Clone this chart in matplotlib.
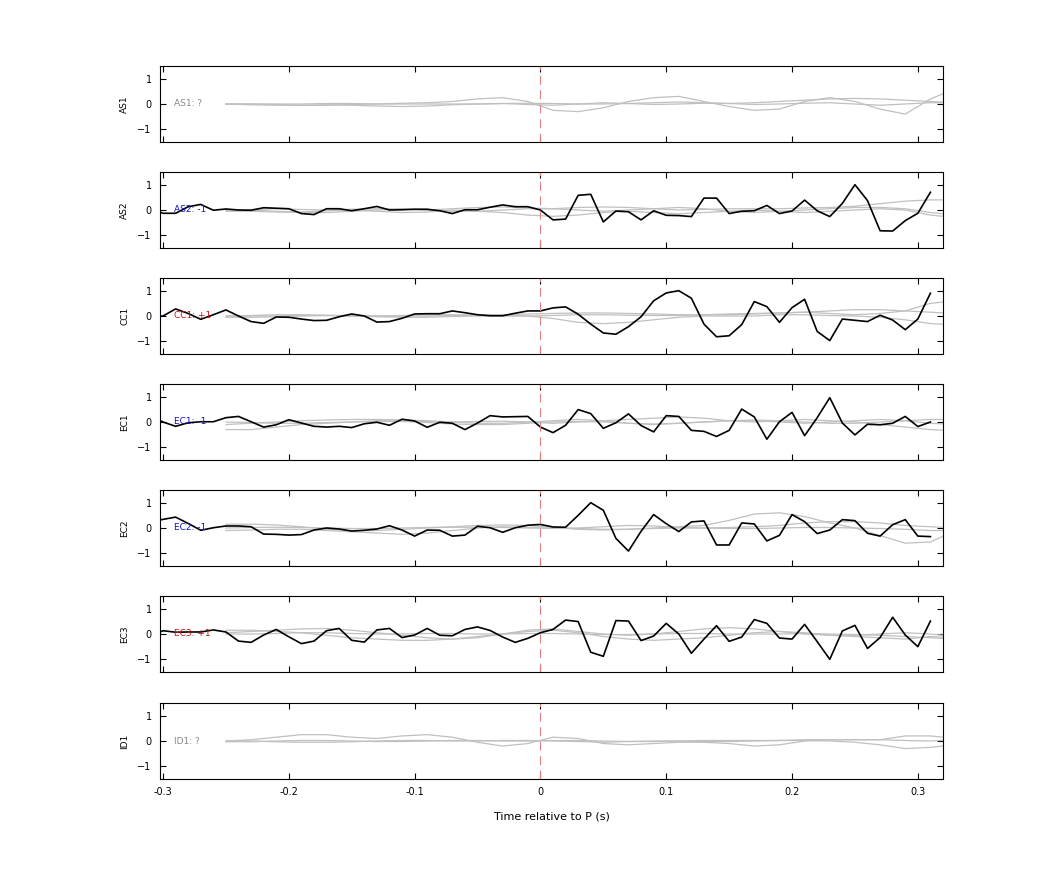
import numpy as np
import matplotlib
matplotlib.use("Agg")
import matplotlib.pyplot as plt

# station names, polarity labels and label colours
stations = ["AS1", "AS2", "CC1", "EC1", "EC2", "EC3", "ID1"]
pol_text = ["?", "-1", "+1", "-1", "-1", "+1", "?"]
pol_color = ["#888888", "#1010c0", "#d01010", "#1010c0", "#1010c0", "#d01010", "#888888"]

# observed traces, sampled every 0.01 s from -0.31 to 0.31
t_obs = np.round(np.arange(-0.31, 0.315, 0.01), 2)
obs = {
    "AS2": [0.05, -0.13, -0.13, 0.13, 0.22, -0.01, 0.04, 0.0, -0.01, 0.09, 0.07, 0.05, -0.14, -0.18,
            0.05, 0.05, -0.03, 0.05, 0.14, 0.0, 0.01, 0.03, 0.03, -0.03, -0.14, 0.01, 0.01, 0.11,
            0.2, 0.13, 0.13, 0.0,
            -0.39, -0.36, 0.58, 0.62, -0.47, -0.04, -0.07, -0.39, -0.03, -0.21, -0.22, -0.26, 0.47,
            0.47, -0.14, -0.05, -0.03, 0.18, -0.14, -0.04, 0.39, -0.03, -0.26, 0.26, 1.0, 0.37,
            -0.82, -0.83, -0.42, -0.13, 0.7],
    "CC1": [-0.05, 0.0, 0.28, 0.1, -0.13, 0.05, 0.24, 0.0, -0.22, -0.29, -0.04, -0.05, -0.12, -0.18,
            -0.17, -0.03, 0.08, 0.0, -0.24, -0.22, -0.09, 0.08, 0.09, 0.09, 0.2, 0.13, 0.05, 0.01,
            0.01, 0.11, 0.2, 0.2,
            0.32, 0.36, 0.07, -0.32, -0.67, -0.72, -0.42, -0.03, 0.6, 0.91, 1.0, 0.7, -0.32, -0.82,
            -0.78, -0.34, 0.57, 0.37, -0.25, 0.33, 0.66, -0.61, -0.97, -0.12, -0.17, -0.22, 0.03,
            -0.16, -0.54, -0.12, 0.9],
    "EC1": [0.25, 0.0, -0.17, -0.03, 0.01, 0.01, 0.17, 0.22, 0.01, -0.2, -0.11, 0.09, -0.04, -0.17,
            -0.2, -0.17, -0.22, -0.07, -0.01, -0.13, 0.11, 0.04, -0.21, -0.01, -0.05, -0.3, -0.04,
            0.25, 0.2, 0.21, 0.22, -0.2,
            -0.42, -0.13, 0.49, 0.33, -0.25, -0.03, 0.32, -0.14, -0.39, 0.25, 0.22, -0.33, -0.37,
            -0.57, -0.33, 0.51, 0.2, -0.68, 0.01, 0.38, -0.54, 0.17, 0.96, -0.04, -0.51, -0.09,
            -0.11, -0.05, 0.22, -0.18, 0.0],
    "EC2": [0.25, 0.34, 0.43, 0.18, -0.09, 0.01, 0.08, 0.08, 0.05, -0.24, -0.25, -0.28, -0.26, -0.08,
            0.0, -0.04, -0.12, -0.09, -0.04, 0.09, -0.08, -0.32, -0.08, -0.09, -0.32, -0.28, 0.07,
            0.01, -0.17, 0.01, 0.11, 0.14,
            0.04, 0.03, 0.5, 1.0, 0.7, -0.41, -0.91, -0.13, 0.53, 0.17, -0.14, 0.24, 0.28, -0.67,
            -0.67, 0.2, 0.16, -0.51, -0.29, 0.53, 0.25, -0.22, -0.08, 0.33, 0.29, -0.21, -0.32,
            0.13, 0.33, -0.32, -0.34],
    "EC3": [-0.1, 0.13, 0.07, 0.08, 0.08, 0.16, 0.08, -0.28, -0.33, -0.04, 0.18, -0.11, -0.38, -0.28,
            0.13, 0.22, -0.25, -0.32, 0.16, 0.22, -0.14, -0.04, 0.22, -0.05, -0.07, 0.18, 0.28,
            0.14, -0.12, -0.33, -0.17, 0.05,
            0.18, 0.55, 0.49, -0.72, -0.88, 0.53, 0.51, -0.26, -0.08, 0.42, 0.0, -0.76, -0.2, 0.33,
            -0.29, -0.12, 0.57, 0.42, -0.16, -0.2, 0.38, -0.3, -1.0, 0.12, 0.34, -0.57, -0.14, 0.66,
            -0.04, -0.5, 0.51],
}

# synthetic (gray) traces, sampled every 0.02 s from -0.25 to 0.31, last point at 0.33 (clipped)
t_syn = np.round(np.append(np.arange(-0.25, 0.315, 0.02), 0.33), 2)
syn = {
    "AS1": [[0, 0, -0.02, -0.05, -0.05, -0.02, 0, 0.03, 0.05, 0.1, 0.2, 0.25, 0.1, -0.25, -0.3,
             -0.15, 0.1, 0.25, 0.3, 0.1, -0.1, -0.25, -0.2, 0.1, 0.25, 0.1, -0.2, -0.4, 0.2, 0.6],
            [0, 0, 0, 0, 0.02, 0.02, 0, 0, 0, 0, 0, 0.02, 0.03, 0.02, 0, 0, 0.02, 0.05, 0.08, 0.05,
             0.02, 0.05, 0.1, 0.15, 0.2, 0.22, 0.2, 0.15, 0.1, 0.05],
            [0, -0.03, -0.05, -0.05, -0.03, -0.05, -0.08, -0.1, -0.08, -0.03, 0, 0.02, -0.02, -0.05,
             0, 0.05, 0.02, -0.02, 0, 0.03, 0.02, -0.02, 0, 0.03, 0.05, 0, -0.05, 0, 0.05, 0.05]],
    "AS2": [[-0.05, -0.05, -0.08, -0.1, -0.1, -0.05, 0, 0.03, 0, -0.05, -0.05, 0, 0.05, 0.05, 0,
             -0.05, 0, 0.05, 0.1, 0.05, -0.05, -0.1, -0.05, 0, 0.05, 0.1, 0.1, 0.05, -0.1, -0.2],
            [0, 0.02, 0.05, 0.02, 0, 0.03, 0.05, 0.05, 0, 0.05, 0.1, 0.12, 0.08, 0.05, 0.1, 0.12,
             0.1, 0.05, 0, 0.02, 0.05, 0.05, 0.05, 0.08, 0.1, 0.15, 0.25, 0.35, 0.4, 0.4],
            [0, 0, -0.05, -0.08, -0.03, 0, -0.05, -0.1, -0.08, 0, -0.05, -0.1, -0.2, -0.25, -0.2,
             -0.1, -0.05, -0.1, -0.15, -0.1, -0.05, 0, -0.05, -0.1, -0.05, 0, 0.05, 0, -0.2, -0.3]],
    "CC1": [[0, 0.02, 0.05, 0.05, 0.03, 0, 0, 0.02, 0.05, 0.05, 0.02, 0, 0, 0.02, 0.05, 0.05, 0.03,
             0.02, 0.02, 0.05, 0.08, 0.1, 0.12, 0.15, 0.2, 0.25, 0.25, 0.2, 0.15, 0.1],
            [-0.05, -0.05, -0.03, 0, 0.02, 0, -0.03, -0.05, -0.05, -0.02, 0, 0.02, 0, -0.1, -0.25,
             -0.3, -0.25, -0.15, -0.05, 0, 0, 0, 0.05, 0.05, 0.02, 0, -0.05, -0.15, -0.3, -0.35],
            [0, 0, 0, 0.02, 0.02, 0.02, 0, 0, 0, 0.02, 0.05, 0.05, 0.08, 0.1, 0.12, 0.12, 0.1, 0.08,
             0.05, 0.05, 0.05, 0.08, 0.12, 0.15, 0.1, 0.05, 0.1, 0.2, 0.5, 0.6]],
    "EC1": [[-0.3, -0.3, -0.2, -0.1, -0.05, 0, 0.05, 0.05, 0.02, 0, 0.02, 0.03, 0, -0.05, 0, 0.05,
             0.1, 0.15, 0.2, 0.15, 0.05, 0, 0.05, 0.1, 0.05, 0, -0.1, -0.2, -0.3, -0.35],
            [-0.1, -0.05, 0, 0.05, 0.08, 0.1, 0.1, 0.08, 0.05, 0, -0.05, -0.05, 0, 0.05, 0.1, 0.05,
             -0.05, -0.1, -0.05, 0, 0.05, 0.05, 0, -0.05, 0, 0.05, 0.1, 0.05, -0.05, -0.1],
            [0, -0.02, -0.05, -0.05, -0.02, 0, 0.02, 0.02, -0.02, -0.08, -0.1, -0.1, -0.05, 0, 0.02,
             0, -0.05, -0.08, -0.05, 0, 0.05, 0.08, 0.05, 0, -0.05, -0.05, 0, 0.05, 0.1, 0.1]],
    "EC2": [[0.15, 0.15, 0.12, 0.05, -0.05, -0.1, -0.1, -0.05, 0, 0.05, 0.1, 0.12, 0.1, 0.02, -0.05,
             -0.08, -0.05, 0, 0.05, 0.1, 0.3, 0.55, 0.6, 0.45, 0.2, 0, -0.3, -0.6, -0.55, -0.1],
            [-0.1, -0.08, -0.05, -0.05, -0.1, -0.15, -0.2, -0.25, -0.2, -0.1, 0, 0.05, 0.02, -0.02,
             0, 0.05, 0.1, 0.08, 0.02, 0, 0.02, 0.05, 0.1, 0.2, 0.25, 0.25, 0.2, 0.1, 0.05, 0.0],
            [0, 0.02, 0.03, 0.02, 0, -0.02, -0.02, 0, 0.02, 0.03, 0.03, 0.02, 0, 0, -0.02, -0.05,
             -0.05, -0.02, 0, 0, -0.02, -0.02, 0, 0.02, 0.02, 0, -0.02, -0.05, -0.1, -0.1]],
    "EC3": [[0.15, 0.15, 0.1, 0.05, -0.05, -0.15, -0.2, -0.25, -0.25, -0.2, -0.1, 0, 0.1, 0.15, 0.05,
             -0.1, -0.2, -0.25, -0.2, -0.15, -0.05, 0.05, 0.1, 0.05, -0.05, -0.1, -0.15, -0.2, -0.1,
             -0.15],
            [0.05, 0.1, 0.15, 0.2, 0.22, 0.15, 0.05, -0.05, -0.15, -0.2, -0.15, 0, 0.15, 0.2, 0.1,
             0, -0.05, 0, 0.1, 0.2, 0.25, 0.2, 0.1, 0, -0.05, -0.05, 0, 0.05, 0, -0.1],
            [0, 0, 0.02, 0.05, 0.05, 0.02, 0, 0, 0.02, 0.02, 0, 0, 0.02, 0.02, 0, -0.02, -0.02, 0,
             0.02, 0.02, 0, 0, 0, 0.02, 0, -0.02, -0.05, -0.1, -0.15, -0.2]],
    "ID1": [[0, 0.05, 0.15, 0.25, 0.25, 0.15, 0.1, 0.2, 0.25, 0.15, -0.05, -0.2, -0.1, 0.15, 0.1,
             -0.1, -0.15, -0.1, -0.05, -0.05, -0.1, -0.2, -0.15, 0, 0.05, 0.05, 0.05, 0.2, 0.2, 0.1],
            [0, 0, -0.03, -0.05, -0.05, -0.03, 0, 0.02, 0.02, 0, 0, 0.02, 0.02, 0, -0.02, -0.05,
             -0.02, 0, 0, -0.02, -0.02, 0, 0.02, 0.02, 0, -0.05, -0.15, -0.3, -0.25, -0.15],
            [-0.03, -0.03, 0, 0.02, 0.02, 0, -0.02, -0.02, 0, 0.02, 0.02, 0, 0, 0.02, 0.02, 0, -0.02,
             -0.02, 0, 0.02, 0.02, 0.02, 0.02, 0.05, 0.05, 0.05, 0.05, 0.02, 0, 0.05]],
}

fig = plt.figure(figsize=(10.42, 8.75), dpi=100)
left, width, h = 160 / 1042, 783 / 1042, 76 / 875
tops = [66, 172, 278, 384, 490, 596, 703]

for i, st in enumerate(stations):
    ax = fig.add_axes([left, 1 - (tops[i] + 76) / 875, width, h])
    for curve in syn[st]:
        ax.plot(t_syn, curve, color="#c0c0c0", lw=0.9)
    if st in obs:
        ax.plot(t_obs, obs[st], color="black", lw=1.2)
    ax.axvline(0, color="#e08080", lw=0.8, ls=(0, (8, 5)))
    ax.text(-0.291, 0, st + ": " + pol_text[i], color=pol_color[i], fontsize=6.5, va="center")
    ax.set_xlim(-0.3024, 0.32)
    ax.set_ylim(-1.5, 1.5)
    ax.set_yticks([-1, 0, 1])
    ax.set_xticks([-0.3, -0.2, -0.1, 0, 0.1, 0.2, 0.3])
    ax.set_xticklabels(["-0.3", "-0.2", "-0.1", "0", "0.1", "0.2", "0.3"])
    ax.tick_params(direction="in", top=True, right=True, labelsize=7, length=4, pad=6)
    ax.set_ylabel(st, fontsize=6.5, labelpad=6)
    if i < len(stations) - 1:
        ax.tick_params(labelbottom=False)
    else:
        ax.set_xlabel("Time relative to P (s)", fontsize=8, labelpad=10)

fig.savefig("out.png", dpi=100)
